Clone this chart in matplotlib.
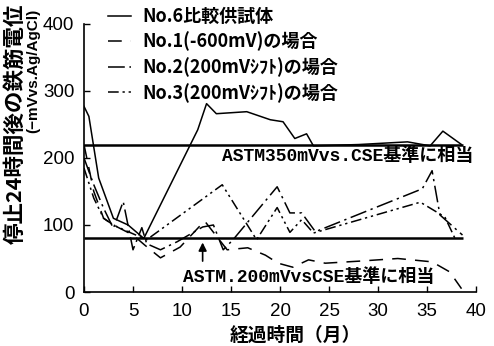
import matplotlib
matplotlib.use("Agg")
import matplotlib.pyplot as plt

JP = 'Noto Sans CJK JP'

# elapsed months / rebar potential (-mV vs. Ag/AgCl), 24 h after stop
months_6 = [0, 0.5, 1.5, 3, 4.5, 6.1, 11.6, 12.5, 13.5, 16.6, 19, 20.3, 21.5,
            22.7, 23.4, 28, 33, 35.3, 36.6, 38.5]
pot_6 = [277, 262, 170, 110, 100, 80, 242, 281, 266, 269, 257, 254, 229,
         236, 218, 220, 224, 218, 240, 220]

months_1 = [0, 1, 2, 3, 5, 6.2, 7.8, 9.8, 12.3, 14.6, 16.7, 18.5, 19.8, 21.3,
            22.9, 24.6, 28, 32, 35.5, 37.3, 38.5]
pot_1 = [220, 150, 110, 100, 85, 70, 51, 67, 106, 63, 66, 55, 43, 37,
         48, 43, 46, 50, 45, 30, 5]

months_2 = [0, 1, 2, 3, 4, 5, 5.9, 6.4, 7.8, 9.5, 12.1, 13.2, 14.2, 15.2,
            19.7, 21, 22.2, 23.6, 34.5, 35.5, 36.3, 38.6]
pot_2 = [200, 160, 125, 95, 135, 63, 96, 72, 63, 75, 97, 100, 63, 78,
         157, 118, 118, 90, 154, 181, 115, 85]

months_3 = [0, 1, 2, 3, 4.5, 6.4, 14.1, 17.6, 19.7, 21, 22.2, 23.4, 34.3,
            36.8, 37.9]
pot_3 = [185, 140, 110, 100, 90, 78, 160, 78, 126, 89, 108, 88, 134, 112, 78]

# ASTM criteria converted to Ag/AgCl
astm_350 = 220
astm_200 = 80

x_ticks = [0, 5, 10, 15, 20, 25, 30, 35, 40]
y_ticks = [0, 100, 200, 300, 400]

fig = plt.figure(figsize=(4.94, 3.46), dpi=100)
ax = fig.add_axes([0.170, 0.156, 0.794, 0.775])

ax.plot(months_6, pot_6, color='black', lw=1.1, ls='-', label='No.6比較供試体')
ax.plot(months_1, pot_1, color='black', lw=1.1, ls=(0, (9, 6)),
        label='No.1(-600mV)の場合')
ax.plot(months_2, pot_2, color='black', lw=1.1, ls=(0, (11, 3, 1.5, 3)),
        label='No.2(200mVｼﾌﾄ)の場合')
ax.plot(months_3, pot_3, color='black', lw=1.1,
        ls=(0, (7, 2.5, 1.5, 2.5, 1.5, 2.5)), label='No.3(200mVｼﾌﾄ)の場合')

ax.hlines([astm_350, astm_200], 0, 38.7, colors='black', lw=1.8)

ax.text(14.1, 203, 'ASTM350mVvs.CSE基準に相当', ha='left', va='center',
        fontsize=13, weight='bold', family=['Liberation Mono', JP])
ax.text(10.1, 22, 'ASTM.200mVvsCSE基準に相当', ha='left', va='center',
        fontsize=13, weight='bold', family=['Liberation Mono', JP])
ax.annotate('', xy=(12.1, astm_200 - 2), xytext=(12.1, 42),
            arrowprops=dict(arrowstyle='-|>', color='black', lw=1.2,
                            mutation_scale=12))

ax.set_xlim(0, 40)
ax.set_ylim(0, 400)
ax.set_xticks(x_ticks)
ax.set_yticks(y_ticks)
ax.tick_params(direction='in', length=4, width=1, labelsize=13.5)
ax.tick_params(axis='x', pad=8)
ax.tick_params(axis='y', pad=7)
for lab in ax.get_xticklabels() + ax.get_yticklabels():
    lab.set_family('Liberation Sans')
for side in ['top', 'right']:
    ax.spines[side].set_visible(False)
for side in ['left', 'bottom']:
    ax.spines[side].set_linewidth(1.2)

fig.text(0.030, 0.99, '停止24時間後の鉄筋電位', rotation=90, ha='center',
         va='top', fontsize=15.5, weight='bold', family=JP)
fig.text(0.068, 0.975, '(−mVvs.Ag/AgCl)', rotation=90, ha='center',
         va='top', fontsize=11, weight='bold',
         family=['Liberation Sans', JP])
fig.text(0.597, 0.03, '経過時間（月）', ha='center', va='center',
         fontsize=13.5, weight='bold', family=JP)

ax.legend(loc='upper left', bbox_to_anchor=(108 / 494, 1 - 7 / 346),
          bbox_transform=fig.transFigure, frameon=False, borderpad=0,
          borderaxespad=0, handlelength=1.3, handletextpad=0.6,
          labelspacing=0.32, prop={'family': JP, 'size': 13, 'weight': 'bold'})

fig.savefig('out.png', dpi=100)
